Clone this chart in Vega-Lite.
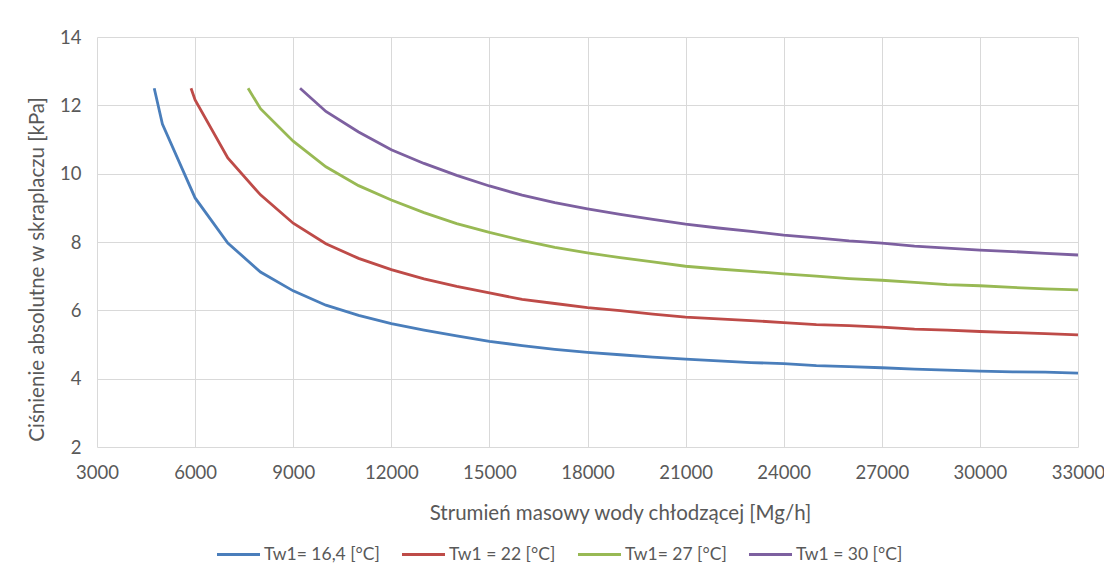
{
  "$schema": "https://vega.github.io/schema/vega-lite/v6.json",
  "width": 981,
  "height": 410,
  "autosize": {"type": "none"},
  "padding": {"left": 97, "top": 37, "right": 26, "bottom": 130},
  "background": "white",
  "config": {
    "view": {"stroke": null},
    "font": "Lato",
    "axis": {"labelFont": "Lato", "titleFont": "Lato", "labelColor": "#595959", "titleColor": "#595959", "labelFontSize": 18.5, "titleFontSize": 20.5, "titleFontWeight": "normal", "gridColor": "#d9d9d9", "gridWidth": 1, "domain": false, "ticks": false, "labelFlush": false},
    "legend": {"labelFont": "Lato", "labelColor": "#595959", "labelFontSize": 17.5}
  },
  "data": {"values": [
    {"s": "Tw1= 16,4 [°C]", "m": 4750, "p": 12.5},
    {"s": "Tw1= 16,4 [°C]", "m": 5000, "p": 11.45},
    {"s": "Tw1= 16,4 [°C]", "m": 6000, "p": 9.29},
    {"s": "Tw1= 16,4 [°C]", "m": 7000, "p": 7.97},
    {"s": "Tw1= 16,4 [°C]", "m": 8000, "p": 7.12},
    {"s": "Tw1= 16,4 [°C]", "m": 9000, "p": 6.57},
    {"s": "Tw1= 16,4 [°C]", "m": 10000, "p": 6.15},
    {"s": "Tw1= 16,4 [°C]", "m": 11000, "p": 5.85},
    {"s": "Tw1= 16,4 [°C]", "m": 12000, "p": 5.61},
    {"s": "Tw1= 16,4 [°C]", "m": 13000, "p": 5.42},
    {"s": "Tw1= 16,4 [°C]", "m": 14000, "p": 5.25},
    {"s": "Tw1= 16,4 [°C]", "m": 15000, "p": 5.09},
    {"s": "Tw1= 16,4 [°C]", "m": 16000, "p": 4.97},
    {"s": "Tw1= 16,4 [°C]", "m": 17000, "p": 4.86},
    {"s": "Tw1= 16,4 [°C]", "m": 18000, "p": 4.77},
    {"s": "Tw1= 16,4 [°C]", "m": 19000, "p": 4.7},
    {"s": "Tw1= 16,4 [°C]", "m": 20000, "p": 4.63},
    {"s": "Tw1= 16,4 [°C]", "m": 21000, "p": 4.57},
    {"s": "Tw1= 16,4 [°C]", "m": 22000, "p": 4.52},
    {"s": "Tw1= 16,4 [°C]", "m": 23000, "p": 4.47},
    {"s": "Tw1= 16,4 [°C]", "m": 24000, "p": 4.44},
    {"s": "Tw1= 16,4 [°C]", "m": 25000, "p": 4.38},
    {"s": "Tw1= 16,4 [°C]", "m": 26000, "p": 4.35},
    {"s": "Tw1= 16,4 [°C]", "m": 27000, "p": 4.32},
    {"s": "Tw1= 16,4 [°C]", "m": 28000, "p": 4.28},
    {"s": "Tw1= 16,4 [°C]", "m": 29000, "p": 4.25},
    {"s": "Tw1= 16,4 [°C]", "m": 30000, "p": 4.22},
    {"s": "Tw1= 16,4 [°C]", "m": 31000, "p": 4.2},
    {"s": "Tw1= 16,4 [°C]", "m": 32000, "p": 4.19},
    {"s": "Tw1= 16,4 [°C]", "m": 33000, "p": 4.16},
    {"s": "Tw1 = 22 [°C]", "m": 5875, "p": 12.5},
    {"s": "Tw1 = 22 [°C]", "m": 6000, "p": 12.16},
    {"s": "Tw1 = 22 [°C]", "m": 7000, "p": 10.46},
    {"s": "Tw1 = 22 [°C]", "m": 8000, "p": 9.38},
    {"s": "Tw1 = 22 [°C]", "m": 9000, "p": 8.55},
    {"s": "Tw1 = 22 [°C]", "m": 10000, "p": 7.95},
    {"s": "Tw1 = 22 [°C]", "m": 11000, "p": 7.52},
    {"s": "Tw1 = 22 [°C]", "m": 12000, "p": 7.19},
    {"s": "Tw1 = 22 [°C]", "m": 13000, "p": 6.92},
    {"s": "Tw1 = 22 [°C]", "m": 14000, "p": 6.7},
    {"s": "Tw1 = 22 [°C]", "m": 15000, "p": 6.51},
    {"s": "Tw1 = 22 [°C]", "m": 16000, "p": 6.32},
    {"s": "Tw1 = 22 [°C]", "m": 17000, "p": 6.2},
    {"s": "Tw1 = 22 [°C]", "m": 18000, "p": 6.08},
    {"s": "Tw1 = 22 [°C]", "m": 19000, "p": 5.99},
    {"s": "Tw1 = 22 [°C]", "m": 20000, "p": 5.89},
    {"s": "Tw1 = 22 [°C]", "m": 21000, "p": 5.8},
    {"s": "Tw1 = 22 [°C]", "m": 22000, "p": 5.75},
    {"s": "Tw1 = 22 [°C]", "m": 23000, "p": 5.7},
    {"s": "Tw1 = 22 [°C]", "m": 24000, "p": 5.64},
    {"s": "Tw1 = 22 [°C]", "m": 25000, "p": 5.58},
    {"s": "Tw1 = 22 [°C]", "m": 26000, "p": 5.55},
    {"s": "Tw1 = 22 [°C]", "m": 27000, "p": 5.51},
    {"s": "Tw1 = 22 [°C]", "m": 28000, "p": 5.45},
    {"s": "Tw1 = 22 [°C]", "m": 29000, "p": 5.42},
    {"s": "Tw1 = 22 [°C]", "m": 30000, "p": 5.38},
    {"s": "Tw1 = 22 [°C]", "m": 31000, "p": 5.35},
    {"s": "Tw1 = 22 [°C]", "m": 32000, "p": 5.32},
    {"s": "Tw1 = 22 [°C]", "m": 33000, "p": 5.28},
    {"s": "Tw1= 27 [°C]", "m": 7620, "p": 12.5},
    {"s": "Tw1= 27 [°C]", "m": 8000, "p": 11.9},
    {"s": "Tw1= 27 [°C]", "m": 9000, "p": 10.95},
    {"s": "Tw1= 27 [°C]", "m": 10000, "p": 10.2},
    {"s": "Tw1= 27 [°C]", "m": 11000, "p": 9.65},
    {"s": "Tw1= 27 [°C]", "m": 12000, "p": 9.23},
    {"s": "Tw1= 27 [°C]", "m": 13000, "p": 8.86},
    {"s": "Tw1= 27 [°C]", "m": 14000, "p": 8.54},
    {"s": "Tw1= 27 [°C]", "m": 15000, "p": 8.28},
    {"s": "Tw1= 27 [°C]", "m": 16000, "p": 8.05},
    {"s": "Tw1= 27 [°C]", "m": 17000, "p": 7.84},
    {"s": "Tw1= 27 [°C]", "m": 18000, "p": 7.68},
    {"s": "Tw1= 27 [°C]", "m": 19000, "p": 7.54},
    {"s": "Tw1= 27 [°C]", "m": 20000, "p": 7.42},
    {"s": "Tw1= 27 [°C]", "m": 21000, "p": 7.29},
    {"s": "Tw1= 27 [°C]", "m": 22000, "p": 7.21},
    {"s": "Tw1= 27 [°C]", "m": 23000, "p": 7.14},
    {"s": "Tw1= 27 [°C]", "m": 24000, "p": 7.07},
    {"s": "Tw1= 27 [°C]", "m": 25000, "p": 7.0},
    {"s": "Tw1= 27 [°C]", "m": 26000, "p": 6.93},
    {"s": "Tw1= 27 [°C]", "m": 27000, "p": 6.88},
    {"s": "Tw1= 27 [°C]", "m": 28000, "p": 6.82},
    {"s": "Tw1= 27 [°C]", "m": 29000, "p": 6.75},
    {"s": "Tw1= 27 [°C]", "m": 30000, "p": 6.72},
    {"s": "Tw1= 27 [°C]", "m": 31000, "p": 6.67},
    {"s": "Tw1= 27 [°C]", "m": 32000, "p": 6.63},
    {"s": "Tw1= 27 [°C]", "m": 33000, "p": 6.6},
    {"s": "Tw1 = 30 [°C]", "m": 9210, "p": 12.5},
    {"s": "Tw1 = 30 [°C]", "m": 10000, "p": 11.82},
    {"s": "Tw1 = 30 [°C]", "m": 11000, "p": 11.22},
    {"s": "Tw1 = 30 [°C]", "m": 12000, "p": 10.7},
    {"s": "Tw1 = 30 [°C]", "m": 13000, "p": 10.3},
    {"s": "Tw1 = 30 [°C]", "m": 14000, "p": 9.95},
    {"s": "Tw1 = 30 [°C]", "m": 15000, "p": 9.64},
    {"s": "Tw1 = 30 [°C]", "m": 16000, "p": 9.37},
    {"s": "Tw1 = 30 [°C]", "m": 17000, "p": 9.15},
    {"s": "Tw1 = 30 [°C]", "m": 18000, "p": 8.97},
    {"s": "Tw1 = 30 [°C]", "m": 19000, "p": 8.81},
    {"s": "Tw1 = 30 [°C]", "m": 20000, "p": 8.66},
    {"s": "Tw1 = 30 [°C]", "m": 21000, "p": 8.52},
    {"s": "Tw1 = 30 [°C]", "m": 22000, "p": 8.41},
    {"s": "Tw1 = 30 [°C]", "m": 23000, "p": 8.31},
    {"s": "Tw1 = 30 [°C]", "m": 24000, "p": 8.2},
    {"s": "Tw1 = 30 [°C]", "m": 25000, "p": 8.12},
    {"s": "Tw1 = 30 [°C]", "m": 26000, "p": 8.03},
    {"s": "Tw1 = 30 [°C]", "m": 27000, "p": 7.97},
    {"s": "Tw1 = 30 [°C]", "m": 28000, "p": 7.88},
    {"s": "Tw1 = 30 [°C]", "m": 29000, "p": 7.82},
    {"s": "Tw1 = 30 [°C]", "m": 30000, "p": 7.76},
    {"s": "Tw1 = 30 [°C]", "m": 31000, "p": 7.72},
    {"s": "Tw1 = 30 [°C]", "m": 32000, "p": 7.67},
    {"s": "Tw1 = 30 [°C]", "m": 33000, "p": 7.62}
  ]},
  "mark": {"type": "line", "strokeWidth": 2.8, "clip": false},
  "encoding": {
    "x": {"field": "m", "type": "quantitative", "scale": {"domain": [3000, 33000], "nice": false, "zero": false},
      "axis": {"values": [3000, 6000, 9000, 12000, 15000, 18000, 21000, 24000, 27000, 30000, 33000], "format": "d", "labelPadding": 16, "labelOverlap": false, "title": "Strumień masowy wody chłodzącej [Mg/h]", "titlePadding": 22, "titleX": 523}},
    "y": {"field": "p", "type": "quantitative", "scale": {"domain": [2, 14], "nice": false, "zero": false},
      "axis": {"values": [2, 4, 6, 8, 10, 12, 14], "labelPadding": 16, "title": "Ciśnienie absolutne  w skraplaczu [kPa]", "titlePadding": 12, "titleY": 232}},
    "color": {"field": "s", "type": "nominal",
      "scale": {"domain": ["Tw1= 16,4 [°C]", "Tw1 = 22 [°C]", "Tw1= 27 [°C]", "Tw1 = 30 [°C]"], "range": ["#4a7ebb", "#be4b48", "#98b954", "#7d60a0"]},
      "legend": {"title": null, "orient": "none", "direction": "horizontal", "legendX": 118, "legendY": 494, "symbolType": "stroke", "symbolSize": 1850, "symbolStrokeWidth": 3, "labelOffset": 2, "columnPadding": 15}}
  }
}
